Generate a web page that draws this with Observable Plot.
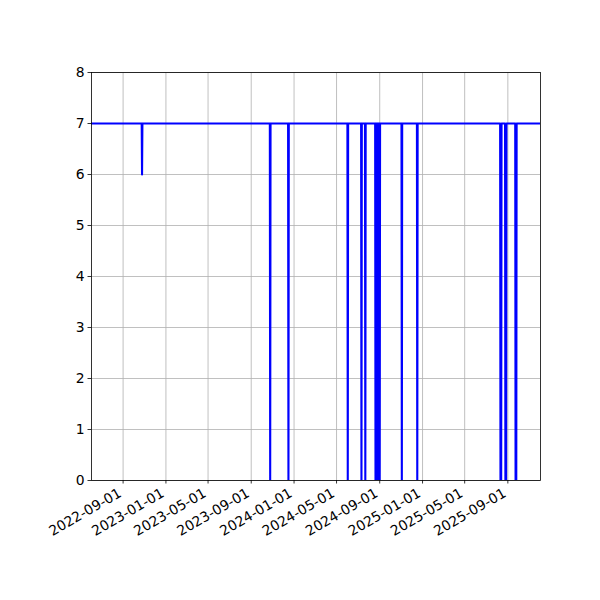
<!DOCTYPE html>
<html>
<head>
<meta charset="utf-8">
<script src="https://cdn.jsdelivr.net/npm/d3@7"></script>
<script src="https://cdn.jsdelivr.net/npm/@observablehq/plot@0.6"></script>
<style>
  html, body { margin: 0; padding: 0; background: #fff; }
</style>
</head>
<body>
<div id="chart"></div>
<script>
// Line points (daily values, baseline 7 with dips)
const dates = [
  "2022-06-03",
  "2022-10-24", "2022-10-25", "2022-10-26",
  "2023-10-24", "2023-10-25", "2023-10-26",
  "2023-12-15", "2023-12-16", "2023-12-17",
  "2024-06-01", "2024-06-02", "2024-06-03",
  "2024-07-10", "2024-07-11", "2024-07-12",
  "2024-07-21", "2024-07-22", "2024-07-23",
  "2024-08-19", "2024-08-20", "2024-08-21",
  "2024-08-22", "2024-08-23", "2024-08-24",
  "2024-08-25", "2024-08-26", "2024-08-27",
  "2024-08-28", "2024-08-29", "2024-08-30",
  "2024-08-31", "2024-09-01", "2024-09-02",
  "2024-11-02", "2024-11-03", "2024-11-04",
  "2024-12-16", "2024-12-17", "2024-12-18",
  "2025-08-10", "2025-08-11", "2025-08-13", "2025-08-14",
  "2025-08-24", "2025-08-25", "2025-08-27", "2025-08-28",
  "2025-09-22", "2025-09-23", "2025-09-25", "2025-09-26",
  "2025-12-03"
];
const values = [
  7,
  7, 6, 7,
  7, 0, 7,
  7, 0, 7,
  7, 0, 7,
  7, 0, 7,
  7, 0, 7,
  7, 0, 7,
  7, 0, 7,
  7, 0, 7,
  7, 0, 7,
  7, 0, 7,
  7, 0, 7,
  7, 0, 7,
  7, 0, 0, 7,
  7, 0, 0, 7,
  7, 0, 0, 7,
  7
];
const xDomain = ["2022-06-03", "2025-12-03"];
const xTicks = ["2022-09-01", "2023-01-01", "2023-05-01", "2023-09-01", "2024-01-01",
                "2024-05-01", "2024-09-01", "2025-01-01", "2025-05-01", "2025-09-01"];
const yTicks = [0, 1, 2, 3, 4, 5, 6, 7, 8];

const data = dates.map((d, i) => ({date: new Date(d + "T00:00:00Z"), value: values[i]}));
const tickDates = xTicks.map(d => new Date(d + "T00:00:00Z"));

const chart = Plot.plot({
  width: 600,
  height: 600,
  marginLeft: 91,
  marginRight: 60,
  marginTop: 72,
  marginBottom: 120,
  style: {fontFamily: "DejaVu Sans", fontSize: "13.9px", color: "#000", background: "#fff"},
  x: {type: "utc", domain: xDomain.map(d => new Date(d + "T00:00:00Z")), label: null},
  y: {domain: [0, 8], label: null},
  marks: [
    Plot.gridX(tickDates, {stroke: "#b0b0b0", strokeOpacity: 1, strokeWidth: 0.8}),
    Plot.gridY(yTicks, {stroke: "#b0b0b0", strokeOpacity: 1, strokeWidth: 0.8}),
    Plot.line(data, {x: "date", y: "value", stroke: "#0000ff", strokeWidth: 2.1, clip: true}),
    Plot.axisY(yTicks, {tickSize: 3.5, tickPadding: 3.5, stroke: "#000", strokeWidth: 0.8, tickFormat: d => String(d), label: null}),
    Plot.axisX(tickDates, {tickSize: 3.5, stroke: "#000", strokeWidth: 0.8, tickFormat: () => "", label: null}),
    Plot.axisX(tickDates, {tickSize: 0, tickPadding: 5.5, tickRotate: -30, dx: -3, dy: 6,
                           tickFormat: d3.utcFormat("%Y-%m-%d"), label: null}),
    Plot.frame({stroke: "#000", strokeWidth: 0.8})
  ]
});
document.getElementById("chart").appendChild(chart);
</script>
</body>
</html>
